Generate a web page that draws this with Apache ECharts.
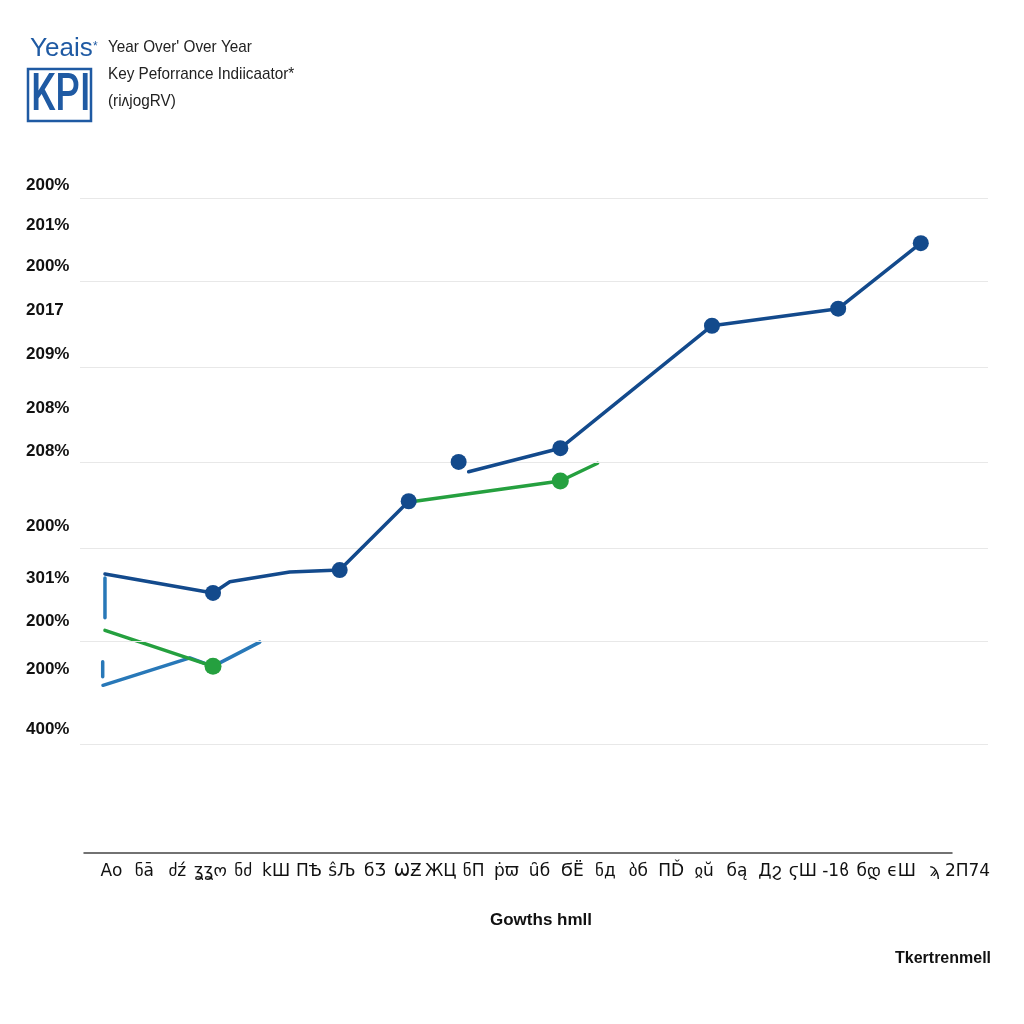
<!DOCTYPE html>
<html>
<head>
<meta charset="utf-8">
<script src="https://cdn.jsdelivr.net/npm/echarts@6/dist/echarts.min.js"></script>
<style>html,body{margin:0;padding:0;background:#fff}#c{width:1024px;height:1024px}</style>
</head>
<body>
<div id="c"></div>
<script>
// ---- data ----
const yLabels = ['200%','201%','200%','2017','209%','208%','208%','200%','301%','200%','200%','400%'];
const yLabelPos = [102.0, 95.9, 89.5, 82.9, 76.2, 67.9, 61.4, 49.8, 42.0, 35.4, 28.1, 18.9];
const gridValues = [100, 87.3, 74.2, 59.7, 46.6, 32.4, 16.6];
const xLabels = ['Ao','ნā','ძź','ʓʓო','ნძ','kШ','ПѢ','ŝЉ','бƷ','ѠƵ','ЖЦ','ნП','ṗϖ','ȗб','ϬЁ','ნд','ბб','ПĎ','ჲŭ','бą','Дϩ','ϛШ','-1ϐ','бდ','ϵШ','ϡ','2П74'];

const darkBlue = [[2.75,42.6],[14.65,39.7],[16.5,41.4],[23.1,42.9],[28.6,43.2],[36.2,53.7],null,[41.7,59.7],null,[42.8,58.2],[52.9,61.8],[69.6,80.5],[83.5,83.1],[92.6,93.1]];
const darkBlueMarks = [0,1,0,0,1,1,0,1,0,0,1,1,1,1];
const green = [[2.75,34.0],[14.65,28.5],null,[36.3,53.6],[52.9,56.8],[57.0,59.5]];
const greenMarks = [0,1,0,0,1,0];
const lightBlue = [[2.75,42.0],[2.75,35.9],null,[2.5,29.2],[2.5,26.9],null,[2.53,25.6],[12.1,29.8],[14.65,28.5],[19.8,32.2]];

const titleLines = ["Year Over' Over Year", 'Key Peforrance Indiicaator*', '(riʌjogRV)'];
const xName = 'Gowths hmll';
const footNote = 'Tkertrenmell';

function toData(pts, marks) {
  return pts.map((p, i) => p === null ? null : {
    value: p,
    symbol: (marks && marks[i]) ? 'circle' : 'none'
  });
}

const chart = echarts.init(document.getElementById('c'));
chart.setOption({
  backgroundColor: '#ffffff',
  animation: false,
  grid: [
    {left: 80, right: 36, top: 132.5, bottom: 171},
    {left: 95, right: 40, top: 800, bottom: 171},
    {left: 84, right: 72, top: 800, bottom: 171}
  ],
  xAxis: [
    {type: 'value', gridIndex: 0, min: 0, max: 100, show: false},
    {type: 'category', gridIndex: 1, data: xLabels, boundaryGap: true,
      axisLine: {show: false}, axisTick: {show: false},
      axisLabel: {interval: 0, margin: 10, fontSize: 17, color: '#111', fontFamily: 'DejaVu Sans'}},
    {type: 'category', gridIndex: 2, data: [''],
      axisLine: {show: true, lineStyle: {color: '#444', width: 1.5}},
      axisTick: {show: false}, axisLabel: {show: false}}
  ],
  yAxis: [
    {type: 'value', gridIndex: 0, min: 0, max: 110,
      axisLine: {show: false}, axisTick: {show: false}, splitLine: {show: false},
      axisLabel: {
        customValues: yLabelPos,
        formatter: function (v) {
          let best = 0, d = Infinity;
          yLabelPos.forEach((p, i) => { if (Math.abs(p - v) < d) { d = Math.abs(p - v); best = i; } });
          return yLabels[best];
        },
        align: 'left', margin: 54, fontSize: 17, fontWeight: 'bold', color: '#111',
        fontFamily: 'Liberation Sans'
      }},
    {type: 'value', gridIndex: 1, show: false},
    {type: 'value', gridIndex: 2, show: false}
  ],
  series: [
    {type: 'line', xAxisIndex: 0, yAxisIndex: 0, data: [], silent: true, z: 1,
      markLine: {silent: true, symbol: 'none', label: {show: false},
        lineStyle: {color: '#e8e8e8', width: 1.2, type: 'solid'},
        data: gridValues.map(v => ({yAxis: v}))}},
    {name: 'lightBlue', type: 'line', xAxisIndex: 0, yAxisIndex: 0, z: 3,
      data: toData(lightBlue, null), connectNulls: false, showAllSymbol: true,
      lineStyle: {color: '#2878b8', width: 3.5, cap: 'round', join: 'round'},
      itemStyle: {color: '#2878b8'}},
    {name: 'green', type: 'line', xAxisIndex: 0, yAxisIndex: 0, z: 4,
      data: toData(green, greenMarks), connectNulls: false, showAllSymbol: true, symbolSize: 17,
      lineStyle: {color: '#25a03f', width: 3.5, cap: 'round', join: 'round'},
      itemStyle: {color: '#25a03f'}},
    {name: 'darkBlue', type: 'line', xAxisIndex: 0, yAxisIndex: 0, z: 5,
      data: toData(darkBlue, darkBlueMarks), connectNulls: false, showAllSymbol: true, symbolSize: 16,
      lineStyle: {color: '#134a8c', width: 3.5, cap: 'round', join: 'round'},
      itemStyle: {color: '#134a8c'}}
  ],
  graphic: [
    {type: 'text', left: 30, top: 36, style: {text: 'Yeais', font: '26px "Liberation Sans"', fill: '#1f5aa3'}},
    {type: 'text', left: 93, top: 41, style: {text: '*', font: '12px "Liberation Sans"', fill: '#1f5aa3'}},
    {type: 'rect', shape: {x: 28, y: 69, width: 63, height: 52}, style: {fill: 'none', stroke: '#1f5aa3', lineWidth: 2.5}},
    {type: 'text', x: 31, y: 71, scaleX: 0.74, style: {text: 'KPI', font: '500 52px Roboto', fill: '#1f5aa3'}},
    {type: 'text', x: 108, y: 39, scaleX: 0.9, style: {text: titleLines[0], font: '17px "Liberation Sans"', fill: '#222'}},
    {type: 'text', x: 108, y: 66, scaleX: 0.9, style: {text: titleLines[1], font: '17px "Liberation Sans"', fill: '#222'}},
    {type: 'text', x: 108, y: 93, scaleX: 0.9, style: {text: titleLines[2], font: '17px "Liberation Sans", "DejaVu Sans"', fill: '#222'}},
    {type: 'text', x: 490, y: 912, style: {text: xName, font: 'bold 17px "Liberation Sans"', fill: '#111'}},
    {type: 'text', x: 895, y: 951, style: {text: footNote, font: 'bold 16px "Liberation Sans"', fill: '#111'}}
  ]
});
</script>
</body>
</html>
